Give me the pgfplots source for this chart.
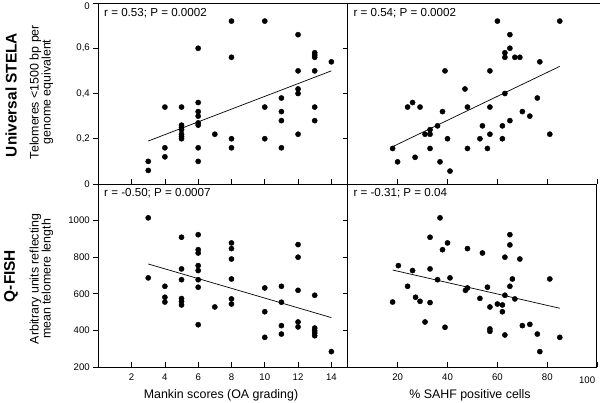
\documentclass[border=0pt]{standalone}
\usepackage{pgfplots}
\pgfplotsset{compat=1.18}
\usepackage{pgfplotstable}
\usepackage{fontspec}
\setmainfont{Liberation Sans}

\pgfplotstableread{
x y
3 0.10
3 0.06
4 0.34
4 0.16
4 0.12
5 0.34
5 0.26
5 0.25
5 0.24
5 0.22
5 0.21
5 0.20
6 0.60
6 0.36
6 0.32
6 0.30
6 0.27
6 0.26
6 0.16
6 0.10
7 0.22
8 0.72
8 0.56
8 0.20
8 0.16
10 0.72
10 0.34
10 0.20
11 0.38
11 0.32
11 0.28
11 0.16
12 0.66
12 0.50
12 0.42
12 0.40
12 0.22
13 0.58
13 0.57
13 0.56
13 0.50
13 0.34
13 0.28
14 0.54
}\stelamankin

\pgfplotstableread{
x y
18 0.157
20 0.098
24 0.34
26 0.36
27 0.118
29 0.34
31 0.22
33 0.24
33 0.22
33 0.157
36 0.257
37 0.098
38 0.32
39 0.50
40 0.20
41 0.057
47 0.42
48 0.34
48 0.157
53 0.20
54 0.257
56 0.157
57 0.50
57 0.34
57 0.22
60 0.72
62 0.257
62 0.20
63 0.40
63 0.58
63 0.56
65 0.66
65 0.60
65 0.28
67 0.56
69 0.56
70 0.32
73 0.30
76 0.38
77 0.54
81 0.22
85 0.72
}\stelasahf

\pgfplotstableread{
x y
3 1015
3 687
4 641
4 581
4 555
5 909
5 736
5 677
5 574
5 559
5 539
6 923
6 841
6 823
6 754
6 727
6 677
6 636
6 431
7 528
8 878
8 847
8 790
8 681
8 572
8 544
10 632
10 502
10 362
11 641
11 554
11 426
11 380
12 869
12 800
12 619
12 446
12 419
13 592
13 413
13 399
13 386
13 371
14 284
}\fishmankin

\pgfplotstableread{
x y
18 555
20.3 754
24 641
26 727
27.2 581
29 559
31 446
33 909
33 736
33 552
36 677
37 1015
38 841
39 417
40 878
41 687
47.2 619
48 632
48 847
53 575
54 823
56 636
57 528
57 408
57 395
60 544
62 539
62 502
63 800
63 592
63 375
65 923
65 867
65 641
66 681
67 572
69 790
70 426
73 433
76 380
77 284
81 681
85 362
}\fishsahf

\pgfplotsset{
  panel/.style={
    scale only axis,
    axis lines=left,
    axis line style={-, line width=0.8pt},
    xtick align=inside, ytick align=outside,
    major tick length=5pt,
    tick style={line width=0.6pt, black},
    clip=false,
    ticklabel style={font=\fontsize{9.6}{11}\selectfont},
  },
  dots/.style={only marks, mark=*, mark size=2.6pt, black},
  fit/.style={black, line width=0.7pt, no marks},
}

\newcommand{\annot}{\fontsize{11.6}{13}\selectfont}
\newcommand{\labf}{\fontsize{12.4}{16.5}\selectfont}
\newcommand{\boldf}{\fontsize{15.4}{18}\selectfont\bfseries}

\begin{document}
\begin{tikzpicture}[x=1pt,y=1pt]
\path[use as bounding box] (0,0) rectangle (600,403);

% Top-left
\begin{axis}[panel, at={(98.3pt,219pt)}, anchor=south west,
  width=249.7pt, height=181pt,
  xmin=0, xmax=15, ymin=0, ymax=0.8,
  xtick={2,4,...,14}, xticklabels={},
  ytick={0,0.2,0.4,0.6},
  yticklabels={0,{0,2},{0,4},{0,6}},
  extra y ticks={0.8}, extra y tick labels={{0,8}},
  extra y tick style={yticklabel style={yshift=-3.5pt}}]
\addplot[dots] table[x=x,y=y]{\stelamankin};
\addplot[fit] coordinates {(3,0.19) (14,0.50)};
\end{axis}

% Top-right
\begin{axis}[panel, at={(347.7pt,219pt)}, anchor=south west,
  width=249.5pt, height=181pt,
  xmin=0, xmax=100, ymin=0, ymax=0.8,
  xtick={20,40,60,80,100}, xticklabels={},
  ytick={0,0.2,0.4,0.6,0.8}, yticklabels={}]
\addplot[dots] table[x=x,y=y]{\stelasahf};
\addplot[fit] coordinates {(18,0.165) (85,0.52)};
\end{axis}

% Bottom-left
\begin{axis}[panel, at={(98.3pt,36pt)}, anchor=south west,
  width=249.7pt, height=183pt,
  xmin=0, xmax=15, ymin=200, ymax=1200,
  xtick={2,4,...,14}, xticklabels={2,4,6,8,10,12,14},
  xticklabel style={yshift=-3pt},
  ytick={200,400,600,800,1000},
  yticklabels={200,400,600,800,1000}]
\addplot[dots] table[x=x,y=y]{\fishmankin};
\addplot[fit] coordinates {(3,763) (14,470)};
\end{axis}

% Bottom-right
\begin{axis}[panel, at={(347.7pt,36pt)}, anchor=south west,
  width=249.5pt, height=183pt,
  xmin=0, xmax=100, ymin=200, ymax=1200,
  xtick={20,40,60,80}, xticklabels={20,40,60,80},
  xticklabel style={yshift=-3pt},
  extra x ticks={100}, extra x tick labels={100},
  extra x tick style={xticklabel style={anchor=north east, xshift=1.5pt, yshift=-3pt}},
  ytick={200,400,600,800,1000}, yticklabels={}]
\addplot[dots] table[x=x,y=y]{\fishsahf};
\addplot[fit] coordinates {(18,730) (85,521)};
\end{axis}

% frame lines
\draw[line width=0.8pt] (98.3,400) -- (600,400);
\draw[line width=0.8pt] (93,219) -- (98.3,219);
\draw[line width=0.6pt] (596.5,36) -- (596.5,219);

% annotations
\node[anchor=west, inner sep=0pt] at (104,390) {\annot r = 0.53; P = 0.0002};
\node[anchor=west, inner sep=0pt] at (353.3,390) {\annot r = 0.54; P = 0.0002};
\node[anchor=west, inner sep=0pt] at (104,210) {\annot r = -0.50; P = 0.0007};
\node[anchor=west, inner sep=0pt] at (353.3,210) {\annot r = -0.31; P = 0.04};

% row labels
\node[rotate=90, inner sep=0pt] at (11,308) {\boldf Universal STELA};
\node[rotate=90, inner sep=0pt, align=center] at (41.5,311) {\labf Telomeres <1500 bp per\\ \labf genome equivalent};
\node[rotate=90, inner sep=0pt] at (11,127) {\boldf Q-FISH};
\node[rotate=90, inner sep=0pt, align=center] at (41.5,124) {\labf Arbitrary units reflecting\\ \labf mean telomere length};

% x labels
\node[inner sep=0pt] at (221,8) {\labf Mankin scores (OA grading)};
\node[inner sep=0pt] at (470,8) {\labf \% SAHF positive cells};
\end{tikzpicture}
\end{document}
